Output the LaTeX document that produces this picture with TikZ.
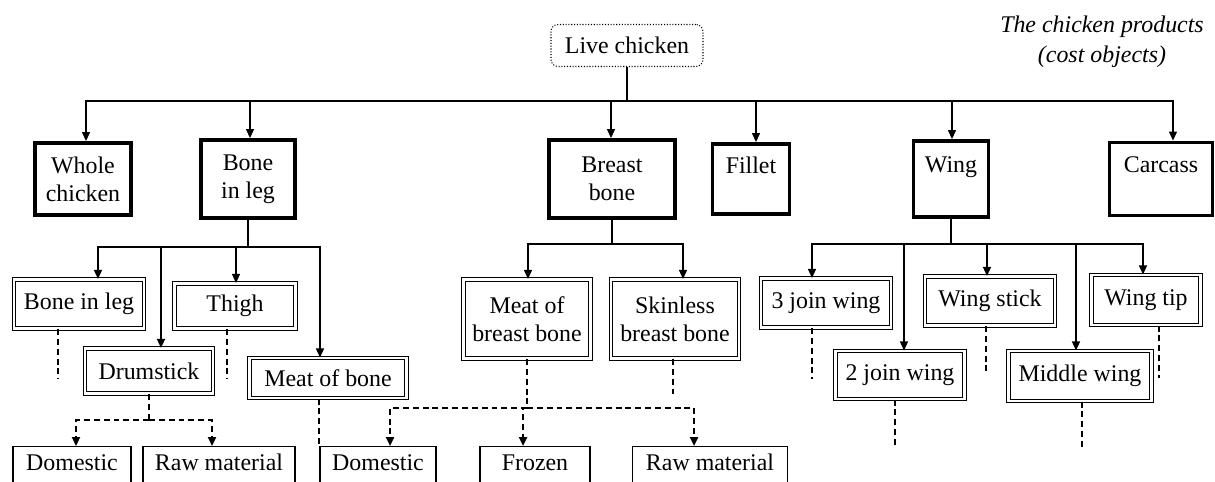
\documentclass[tikz,border=0pt]{standalone}
\usepackage{fontspec}
\setmainfont{Liberation Serif}
\usepackage{tikz}
\usetikzlibrary{arrows.meta}
\tikzset{%
  every piece/.style={
    draw,
    line width=2.2pt,
    align=center
  },
  every cut/.style={
    draw,
    double,
    line width=0.6pt,
    double distance=1.2pt,
    align=center
  },
  every outlet/.style={
    draw,
    line width=0.6pt,
    anchor=north,
    text height=0.34cm,
    text depth=1.2cm,
    inner ysep=0.14cm
  },
  boxsize/.style 2 args={
    minimum width=#1*0.02cm,
    minimum height=#2*0.02cm
  },
  link/.style={line width=0.7pt},
  dotlink/.style={line width=1.4pt, dash pattern=on 3.4pt off 2.2pt},
}

\begin{document}
\begin{tikzpicture}[> = {Triangle[length=0.18cm,width=0.16cm]}, x=0.02cm, y=-0.02cm,
  font=\fontsize{13.6}{15.9}\selectfont]
\useasboundingbox (0,0) rectangle (1215,481);
\clip (0,0) rectangle (1215,481);
\node[draw, densely dotted, rounded corners=4pt, line width=0.6pt, boxsize={152}{42}] (live) at (627,45.5) {Live chicken};
\node[font=\fontsize{13.6}{17}\selectfont\itshape, align=center] (title) at (1102,42) {The chicken products\\(cost objects)};
\node[every piece, boxsize={96}{72}] (whole) at (83,179) {Whole\\chicken};
\node[every piece, boxsize={94}{78}] (leg) at (248,179) {Bone\\in leg};
\node[every piece, boxsize={126}{78}] (breast) at (612,179) {Breast\\bone};
\node[every piece, boxsize={77}{70}] (fillet) at (751,179) {Fillet\\~};
\node[every piece, boxsize={75}{76}] (wing) at (951,179) {Wing\\~};
\node[every piece, boxsize={103}{73}] (carcass) at (1161,179) {Carcass\\~};
\draw[link] (live.south) -- (live.south |- 0,101) coordinate (topbus);
\foreach \n/\x in {whole/86, leg/250, breast/611, fillet/756, wing/952, carcass/1173}
  \draw[link, ->] (topbus) -| (\n.north -| \x,0);
\node[every cut, boxsize={130}{49}] (legcut) at (79,304) {Bone in leg};
\node[every cut, boxsize={121}{45}] (thigh) at (235,306) {Thigh};
\node[every cut, boxsize={128}{45}] (drum) at (149,371) {Drumstick};
\node[every cut, boxsize={157}{40}] (legmeat) at (328,378) {Meat of bone};
\node[every cut, boxsize={127}{79}] (breastmeat) at (527,319) {Meat of\\breast bone};
\node[every cut, boxsize={128}{79}] (skinless) at (675,319) {Skinless\\breast bone};
\node[every cut, boxsize={130}{49}] (join3) at (826,303) {3 join wing};
\node[every cut, boxsize={129}{48}] (join2) at (900,375) {2 join wing};
\node[every cut, boxsize={130}{49}] (stick) at (990,301) {Wing stick};
\node[every cut, boxsize={143}{50}] (middle) at (1080,376) {Middle wing};
\node[every cut, boxsize={109}{50}] (tip) at (1146,300) {Wing tip};
\draw[link] (leg.south) -- (leg.south |- 0,247) coordinate (legbus);
\foreach \n/\x in {legcut/98, drum/161, thigh/236, legmeat/320}
  \draw[link, ->] (legbus) -| (\n.north -| \x,0);
\draw[link] (breast.south) -- (breast.south |- 0,244) coordinate (breastbus);
\foreach \n/\x in {breastmeat/528, skinless/683}
  \draw[link, ->] (breastbus) -| (\n.north -| \x,0);
\draw[link] (wing.south) -- (wing.south |- 0,244) coordinate (wingbus);
\foreach \n/\x in {join3/812, join2/904, stick/987, middle/1076, tip/1143}
  \draw[link, ->] (wingbus) -| (\n.north -| \x,0);
\node[every outlet, boxsize={118}{0}] (home1) at (72,446) {Domestic};
\node[every outlet, boxsize={152}{0}] (raw1) at (219,446) {Raw material};
\node[every outlet, boxsize={116}{0}] (home2) at (378,446) {Domestic};
\node[every outlet, boxsize={110}{0}] (frozen) at (535,446) {Frozen};
\node[every outlet, boxsize={155}{0}] (raw2) at (710,446) {Raw material};
\foreach \n/\x/\l in {legcut/58/50, thigh/227/50, skinless/673/35, join3/812/51, stick/986/48, tip/1159/52, join2/895/49, middle/1082/47}
  \draw[dotlink] (\n.south -| \x,0) -- ++(0,\l);
\draw[dotlink] (drum.south) -- (drum.south |- 0,420) coordinate (drumbus);
\foreach \n/\x in {home1/76, raw1/212}
  \draw[dotlink, ->] (drumbus) -| (\n.north -| \x,0);
\draw[dotlink] (breastmeat.south) -- (breastmeat.south |- 0,408) coordinate (meatbus);
\foreach \n/\x in {home2/390, frozen/523, raw2/694}
  \draw[dotlink, ->] (meatbus) -| (\n.north -| \x,0);
\draw[dotlink] (legmeat.south -| 319,0) -- (home2.north -| 319,0);
\end{tikzpicture}
\end{document}
